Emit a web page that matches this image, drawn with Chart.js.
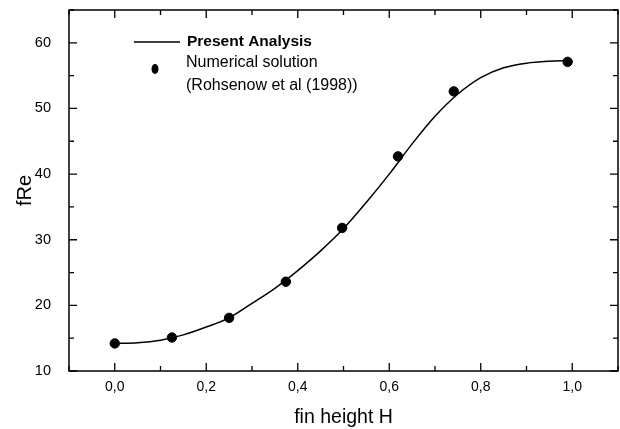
<!DOCTYPE html>
<html>
<head>
<meta charset="utf-8">
<script src="https://cdn.jsdelivr.net/npm/chart.js@4"></script>
<style>
  html, body { margin: 0; padding: 0; background: #fff; overflow: hidden; }
  #wrap { position: absolute; left: 0; top: 0; width: 620px; height: 429px; }
</style>
</head>
<body>
<div id="wrap"><canvas id="myChart"></canvas></div>
<script>
// numerical solution (Rohsenow et al 1998)
const pointH = [0, 0.125, 0.25, 0.374, 0.497, 0.619, 0.741, 0.99];
const pointFRe = [14.2, 15.1, 18.1, 23.6, 31.8, 42.7, 52.6, 57.1];

// present analysis curve
const curveH = [0, 0.05, 0.1, 0.15, 0.2, 0.25, 0.3, 0.35, 0.4, 0.45, 0.5, 0.55, 0.6, 0.65, 0.7, 0.75, 0.8, 0.85, 0.9, 0.95, 0.99];
const curveFRe = [14.2, 14.3, 14.7, 15.5, 16.7, 18.1, 20.3, 22.6, 25.3, 28.3, 31.7, 35.7, 40.0, 44.6, 48.8, 52.2, 54.7, 56.2, 56.9, 57.2, 57.3];

const xTicks = [0, 0.2, 0.4, 0.6, 0.8, 1.0];
const xMinor = [-0.1, 0.1, 0.3, 0.5, 0.7, 0.9, 1.1];
const yTicks = [10, 20, 30, 40, 50, 60];
const yMinor = [15, 25, 35, 45, 55, 65];

const legendLine = 'Present Analysis';
const legendDots = ['Numerical solution', '(Rohsenow et al (1998))'];

const FONT = "'Liberation Sans', Arial, sans-serif";

const noPad = s => { s.paddingTop = 0; s.paddingBottom = 0; s.paddingLeft = 0; s.paddingRight = 0; };

const frame = {
  id: 'frame',
  afterDraw(chart) {
    const ctx = chart.ctx;
    const a = chart.chartArea;
    const x = chart.scales.x, y = chart.scales.y;
    ctx.save();
    ctx.strokeStyle = '#000';
    ctx.lineWidth = 1.5;
    ctx.strokeRect(a.left, a.top, a.right - a.left, a.bottom - a.top);
    ctx.lineWidth = 1.3;
    ctx.beginPath();
    const tick = (vals, len) => {
      vals.forEach(v => {
        const px = x.getPixelForValue(v);
        ctx.moveTo(px, a.bottom); ctx.lineTo(px, a.bottom - len);
        ctx.moveTo(px, a.top); ctx.lineTo(px, a.top + len);
      });
    };
    const ytick = (vals, len) => {
      vals.forEach(v => {
        const py = y.getPixelForValue(v);
        ctx.moveTo(a.left, py); ctx.lineTo(a.left + len, py);
        ctx.moveTo(a.right, py); ctx.lineTo(a.right - len, py);
      });
    };
    tick(xTicks, 8); tick(xMinor, 5);
    ytick(yTicks, 8); ytick(yMinor, 5);
    ctx.stroke();

    // legend
    ctx.fillStyle = '#000';
    ctx.textBaseline = 'middle';
    ctx.beginPath();
    ctx.lineWidth = 1.3;
    ctx.moveTo(a.left + 65, a.top + 32);
    ctx.lineTo(a.left + 111, a.top + 32);
    ctx.stroke();
    ctx.font = 'bold 15.5px ' + FONT;
    ctx.fillText(legendLine, a.left + 118, a.top + 32);
    ctx.beginPath();
    ctx.ellipse(a.left + 86, a.top + 59, 3.5, 5, 0, 0, Math.PI * 2);
    ctx.fill();
    ctx.font = '16px ' + FONT;
    ctx.fillText(legendDots[0], a.left + 117, a.top + 53);
    ctx.fillText(legendDots[1], a.left + 117, a.top + 76);
    ctx.restore();
  }
};

new Chart(document.getElementById('myChart'), {
  type: 'scatter',
  data: {
    datasets: [{
      label: legendLine,
      data: curveH.map((h, i) => ({ x: h, y: curveFRe[i] })),
      showLine: true,
      borderColor: '#000',
      borderWidth: 1.5,
      pointRadius: 0,
      cubicInterpolationMode: 'monotone'
    }, {
      label: legendDots.join(' '),
      data: pointH.map((h, i) => ({ x: h, y: pointFRe[i] })),
      backgroundColor: '#000',
      borderColor: '#000',
      pointRadius: 4.7
    }]
  },
  options: {
    responsive: true,
    maintainAspectRatio: false,
    animation: false,
    layout: { autoPadding: false, padding: { top: 10, right: 2 } },
    plugins: { legend: { display: false }, tooltip: { enabled: false } },
    scales: {
      x: {
        type: 'linear',
        min: -0.1,
        max: 1.1,
        afterBuildTicks: s => { s.ticks = xTicks.map(v => ({ value: v })); },
        afterFit: s => { s.height = 58; noPad(s); },
        grid: { display: false, drawTicks: false },
        border: { display: false },
        ticks: {
          color: '#000',
          padding: 8,
          font: { family: FONT, size: 14 },
          callback: v => v.toFixed(1).replace('.', ',')
        },
        title: {
          display: true,
          text: 'fin height H',
          color: '#000',
          font: { family: FONT, size: 19.5 },
          padding: { top: 0, bottom: 0 }
        }
      },
      y: {
        min: 10,
        max: 65,
        afterBuildTicks: s => { s.ticks = yTicks.map(v => ({ value: v })); },
        afterFit: s => { s.width = 69; noPad(s); },
        grid: { display: false, drawTicks: false },
        border: { display: false },
        ticks: {
          color: '#000',
          padding: 18,
          font: { family: FONT, size: 14.5 }
        },
        title: {
          display: true,
          text: 'fRe',
          color: '#000',
          font: { family: FONT, size: 20 },
          padding: { top: 13, bottom: 0 }
        }
      }
    }
  },
  plugins: [frame]
});
</script>
</body>
</html>
